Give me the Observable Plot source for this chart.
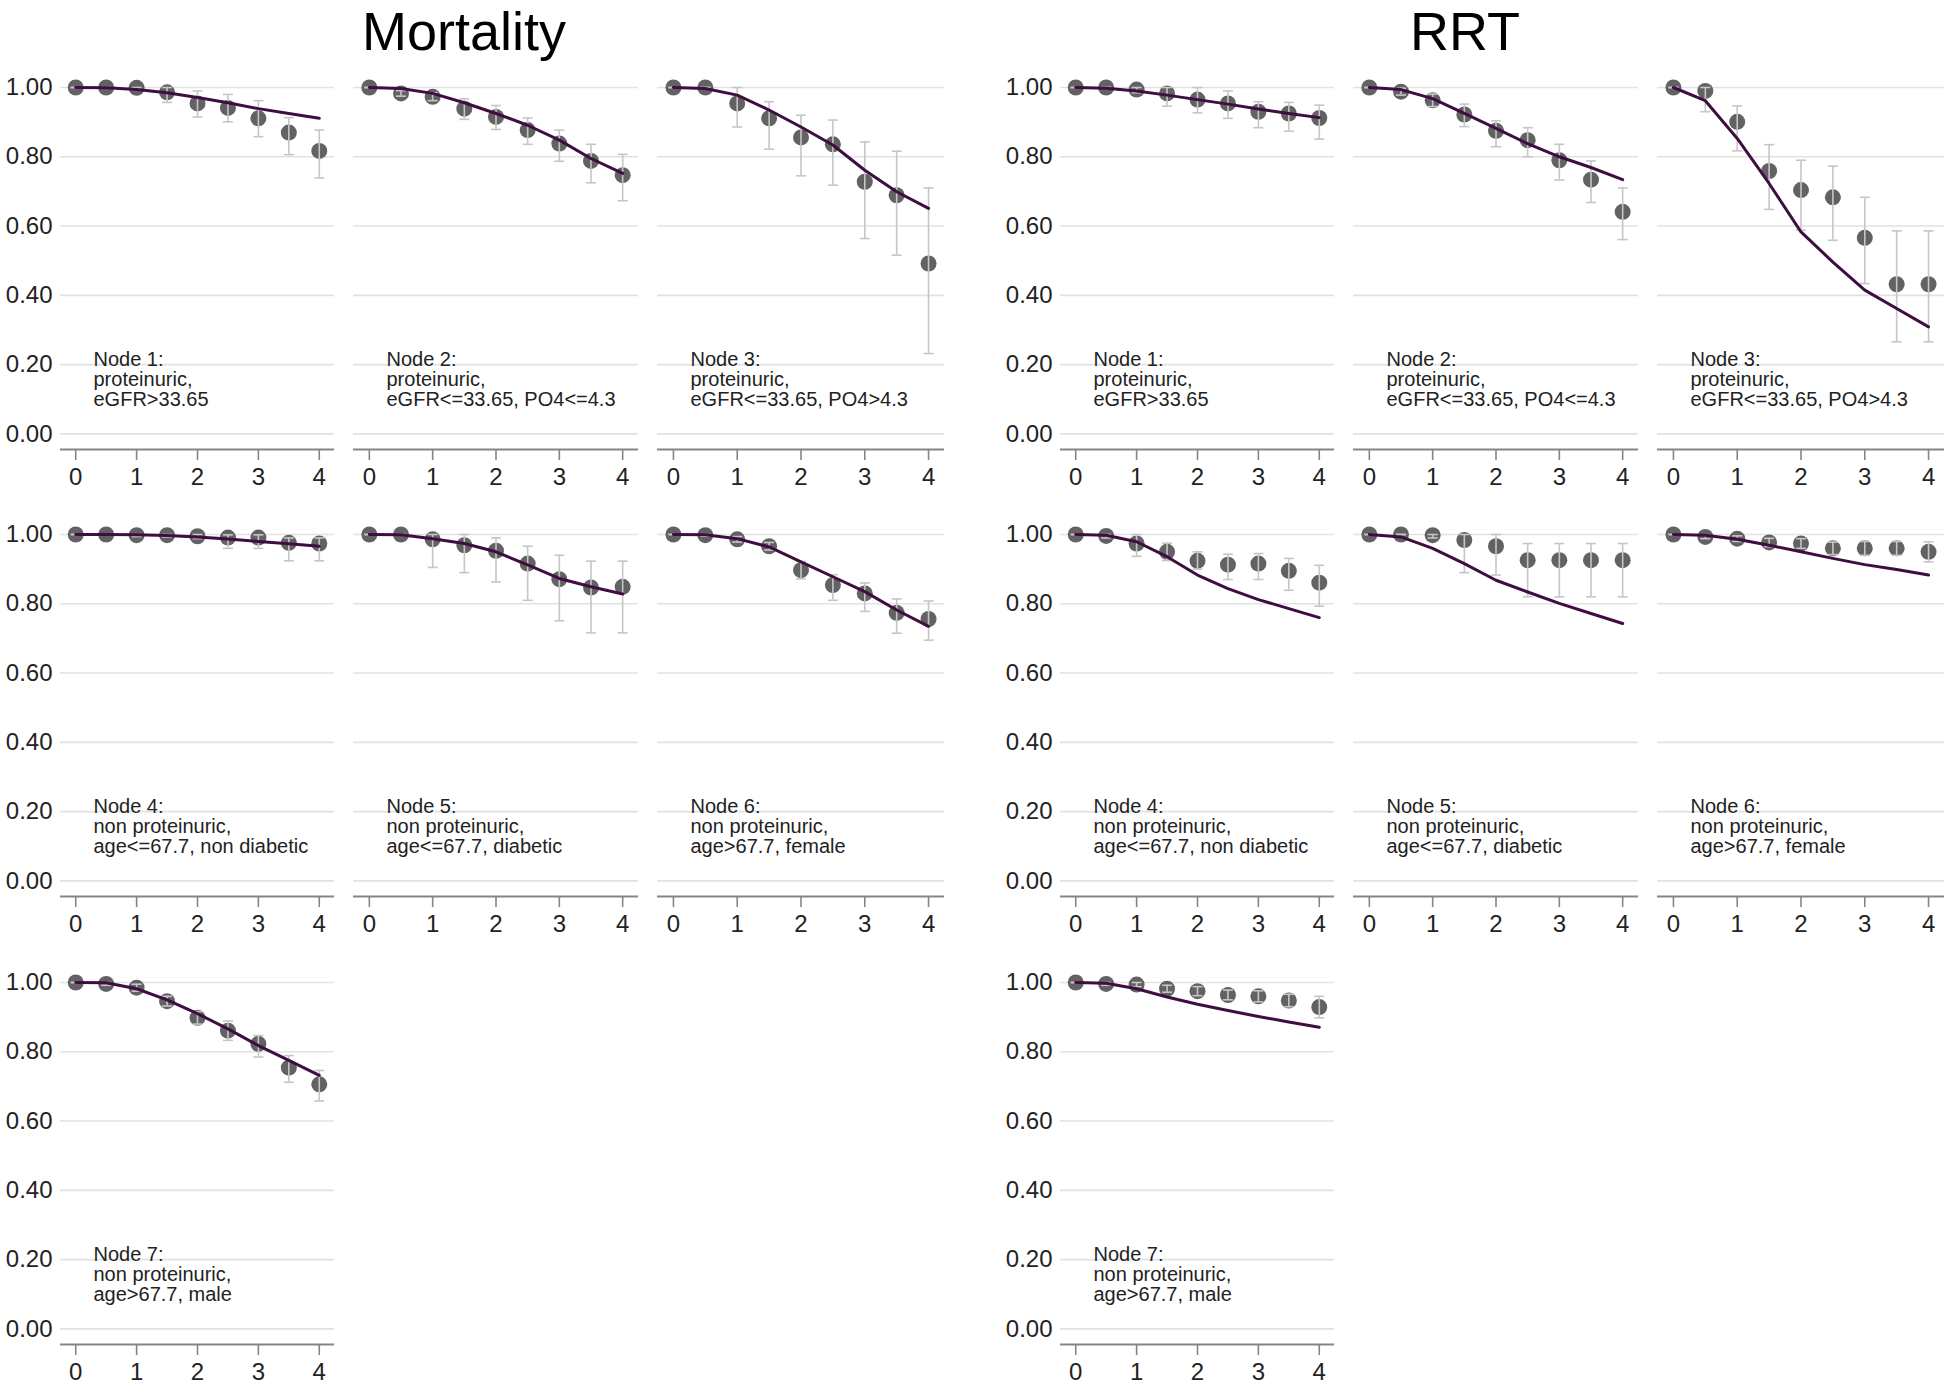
<!DOCTYPE html>
<html>
<head>
<meta charset="utf-8">
<script src="https://cdn.jsdelivr.net/npm/d3@7"></script>
<script src="https://cdn.jsdelivr.net/npm/@observablehq/plot@0.6"></script>
<style>
  html, body { margin: 0; padding: 0; background: #fff; overflow: hidden; }
  #root { position: relative; width: 1946px; height: 1389px; font-family: "Liberation Sans", Arial, sans-serif; }
  .title { position: absolute; top: 0; width: 400px; text-align: center; font-size: 54px; line-height: normal; color: #000; }
  .panel { position: absolute; }
  .panel svg { overflow: visible; }
</style>
</head>
<body>
<div id="root"></div>
<script>
// ---------------- data ----------------
const times = [0, 0.5, 1, 1.5, 2, 2.5, 3, 3.5, 4];
const yTicks = [0, 0.2, 0.4, 0.6, 0.8, 1.0];
const xTicks = [0, 1, 2, 3, 4];
const outcomes = ["Mortality", "RRT"];
const nodeLabels = [
  "Node 1:\nproteinuric,\neGFR>33.65",
  "Node 2:\nproteinuric,\neGFR<=33.65, PO4<=4.3",
  "Node 3:\nproteinuric,\neGFR<=33.65, PO4>4.3",
  "Node 4:\nnon proteinuric,\nage<=67.7, non diabetic",
  "Node 5:\nnon proteinuric,\nage<=67.7, diabetic",
  "Node 6:\nnon proteinuric,\nage>67.7, female",
  "Node 7:\nnon proteinuric,\nage>67.7, male"
];

// Mortality: observed survival, CI lower, CI upper, predicted (line)
const mortObs = [
  [1.000,1.000,0.999,0.986,0.954,0.941,0.911,0.870,0.817],
  [1.000,0.983,0.973,0.939,0.915,0.877,0.838,0.788,0.747],
  [1.000,1.000,0.954,0.911,0.856,0.836,0.728,0.689,0.492],
  [1.000,1.000,0.998,0.998,0.995,0.991,0.991,0.976,0.974],
  [1.000,1.000,0.986,0.969,0.953,0.916,0.871,0.847,0.849],
  [1.000,0.998,0.986,0.966,0.897,0.854,0.830,0.774,0.756],
  [1.000,0.996,0.985,0.946,0.898,0.861,0.823,0.754,0.706]
];
const mortLo = [
  [1.000,1.000,0.995,0.957,0.915,0.901,0.858,0.806,0.739],
  [1.000,0.975,0.962,0.908,0.879,0.836,0.787,0.725,0.673],
  [1.000,1.000,0.886,0.822,0.745,0.718,0.564,0.516,0.232],
  [1.000,1.000,0.994,0.993,0.988,0.960,0.960,0.924,0.924],
  [1.000,1.000,0.905,0.890,0.863,0.810,0.751,0.716,0.716],
  [1.000,0.995,0.978,0.955,0.872,0.810,0.778,0.715,0.695],
  [1.000,0.992,0.975,0.932,0.880,0.833,0.785,0.712,0.658]
];
const mortHi = [
  [1.000,1.000,1.000,1.000,0.990,0.980,0.962,0.913,0.877],
  [1.000,0.991,0.985,0.967,0.948,0.912,0.877,0.836,0.807],
  [1.000,1.000,1.000,0.959,0.920,0.906,0.843,0.816,0.710],
  [1.000,1.000,1.000,1.000,1.000,0.999,0.999,0.990,0.990],
  [1.000,1.000,1.000,1.000,0.990,0.966,0.940,0.923,0.923],
  [1.000,1.000,0.994,0.977,0.922,0.884,0.860,0.814,0.808],
  [1.000,1.000,0.995,0.960,0.916,0.889,0.847,0.789,0.746]
];
const mortPred = [
  [1.000,0.999,0.994,0.985,0.971,0.956,0.939,0.925,0.911],
  [1.000,0.997,0.983,0.956,0.925,0.891,0.848,0.795,0.752],
  [1.000,0.997,0.978,0.935,0.886,0.834,0.761,0.699,0.651],
  [1.000,1.000,0.999,0.997,0.993,0.987,0.980,0.973,0.966],
  [1.000,0.999,0.988,0.974,0.950,0.912,0.873,0.849,0.828],
  [1.000,0.999,0.988,0.964,0.921,0.878,0.835,0.782,0.735],
  [1.000,0.999,0.982,0.950,0.910,0.866,0.818,0.775,0.732]
];

// RRT
const rrtObs = [
  [1.000,1.000,0.994,0.983,0.965,0.954,0.930,0.925,0.912],
  [1.000,0.988,0.963,0.922,0.875,0.848,0.790,0.734,0.641],
  [1.000,0.990,0.901,0.759,0.704,0.683,0.566,0.432,0.432],
  [1.000,0.996,0.974,0.950,0.924,0.913,0.916,0.895,0.861],
  [1.000,1.000,0.998,0.984,0.966,0.926,0.926,0.926,0.926],
  [1.000,0.993,0.988,0.977,0.974,0.960,0.960,0.960,0.950],
  [1.000,0.996,0.994,0.982,0.975,0.964,0.960,0.948,0.929]
];
const rrtLo = [
  [1.000,1.000,0.985,0.946,0.927,0.911,0.884,0.874,0.851],
  [1.000,0.978,0.945,0.887,0.829,0.800,0.733,0.668,0.561],
  [1.000,0.930,0.817,0.648,0.588,0.559,0.434,0.266,0.266],
  [1.000,0.990,0.937,0.925,0.900,0.870,0.870,0.839,0.793],
  [1.000,1.000,0.990,0.890,0.883,0.820,0.820,0.820,0.820],
  [1.000,0.988,0.980,0.965,0.960,0.942,0.940,0.940,0.921],
  [1.000,0.992,0.988,0.972,0.962,0.950,0.944,0.930,0.898]
];
const rrtHi = [
  [1.000,1.000,1.000,1.000,1.000,0.990,0.959,0.957,0.949],
  [1.000,0.998,0.981,0.952,0.904,0.884,0.836,0.788,0.710],
  [1.000,1.000,0.947,0.835,0.790,0.773,0.683,0.586,0.586],
  [1.000,1.000,1.000,0.975,0.950,0.943,0.945,0.931,0.911],
  [1.000,1.000,1.000,1.000,1.000,0.974,0.974,0.974,0.974],
  [1.000,0.998,0.996,0.989,0.988,0.978,0.980,0.980,0.979],
  [1.000,1.000,1.000,0.992,0.988,0.978,0.976,0.966,0.960]
];
const rrtPred = [
  [1.000,0.998,0.990,0.978,0.965,0.952,0.938,0.925,0.913],
  [1.000,0.994,0.968,0.925,0.882,0.838,0.800,0.769,0.734],
  [1.000,0.962,0.853,0.723,0.583,0.496,0.415,0.362,0.309],
  [1.000,0.998,0.979,0.936,0.883,0.844,0.812,0.786,0.760],
  [1.000,0.993,0.960,0.916,0.868,0.834,0.801,0.772,0.743],
  [1.000,0.998,0.986,0.969,0.950,0.931,0.913,0.899,0.883],
  [1.000,0.998,0.982,0.958,0.937,0.919,0.902,0.886,0.871]
];

// ---------------- layout / style ----------------
const blockLeft = [0, 1000];
const titleCenter = [464, 1465];
const rowTop = [60, 507, 955];
const cols = [
  {left: 0, width: 334, marginLeft: 60},
  {left: 353, width: 285, marginLeft: 0},
  {left: 657, width: 287, marginLeft: 0}
];
const H = 434, MT = 27, MB = 45;
const Y0 = -0.045;

const capSymbol = {
  draw(context, size) {
    const w = Math.sqrt(size / Math.PI);
    context.moveTo(-w, 0);
    context.lineTo(w, 0);
  }
};

const root = document.getElementById("root");

outcomes.forEach((name, b) => {
  const t = document.createElement("div");
  t.className = "title";
  t.textContent = name;
  t.style.left = (titleCenter[b] - 200) + "px";
  root.appendChild(t);
});

function panel(b, node, obs, lo, hi, pred) {
  const row = Math.floor(node / 3), col = node % 3;
  const c = cols[col];
  const showY = col === 0;
  const data = times.map((tt, i) => ({t: tt, obs: obs[i], lo: lo[i], hi: hi[i], pred: pred[i]}));
  const errStyle = {stroke: "#c6c6c6", strokeWidth: 1.6};
  const chart = Plot.plot({
    width: c.width,
    height: H,
    marginLeft: c.marginLeft,
    marginRight: 0,
    marginTop: MT,
    marginBottom: MB,
    style: {fontFamily: "'Liberation Sans', Arial, sans-serif", fontSize: "24px", color: "#222", background: "transparent"},
    x: {domain: [-0.25, 4.25]},
    y: showY ? {domain: [Y0, 1]} : {domain: [Y0, 1], axis: null},
    marks: [
      Plot.ruleY(yTicks, {stroke: "#e2e2e2", strokeWidth: 1.6}),
      showY ? Plot.axisY({ticks: yTicks, tickFormat: d3.format(".2f"), tickSize: 0, tickPadding: 8, fontSize: 24, label: null}) : null,
      Plot.ruleY([Y0], {stroke: "#858585", strokeWidth: 2}),
      Plot.axisX({ticks: xTicks, tickFormat: d3.format("d"), tickSize: 11, tickPadding: 7, stroke: "#858585", strokeWidth: 1.6, fontSize: 24, label: null}),
      Plot.dot(data, {x: "t", y: "obs", r: 8, fill: "#626262", stroke: "none"}),
      Plot.ruleX(data, {x: "t", y1: "lo", y2: "hi", ...errStyle}),
      Plot.dot(data, {x: "t", y: "lo", symbol: capSymbol, r: 5, fill: "none", ...errStyle}),
      Plot.dot(data, {x: "t", y: "hi", symbol: capSymbol, r: 5, fill: "none", ...errStyle}),
      Plot.line(data, {x: "t", y: "pred", stroke: "#3e0e40", strokeWidth: 3}),
      Plot.text([nodeLabels[node]], {text: d => d, frameAnchor: "left", dx: 33, y: 0.235, lineAnchor: "top", textAnchor: "start", fontSize: 20, lineHeight: 0.98, fill: "#222"})
    ]
  });
  const div = document.createElement("div");
  div.className = "panel";
  div.style.left = (blockLeft[b] + c.left) + "px";
  div.style.top = rowTop[row] + "px";
  div.appendChild(chart);
  root.appendChild(div);
}

for (let n = 0; n < 7; n++) {
  panel(0, n, mortObs[n], mortLo[n], mortHi[n], mortPred[n]);
  panel(1, n, rrtObs[n], rrtLo[n], rrtHi[n], rrtPred[n]);
}
</script>
</body>
</html>
